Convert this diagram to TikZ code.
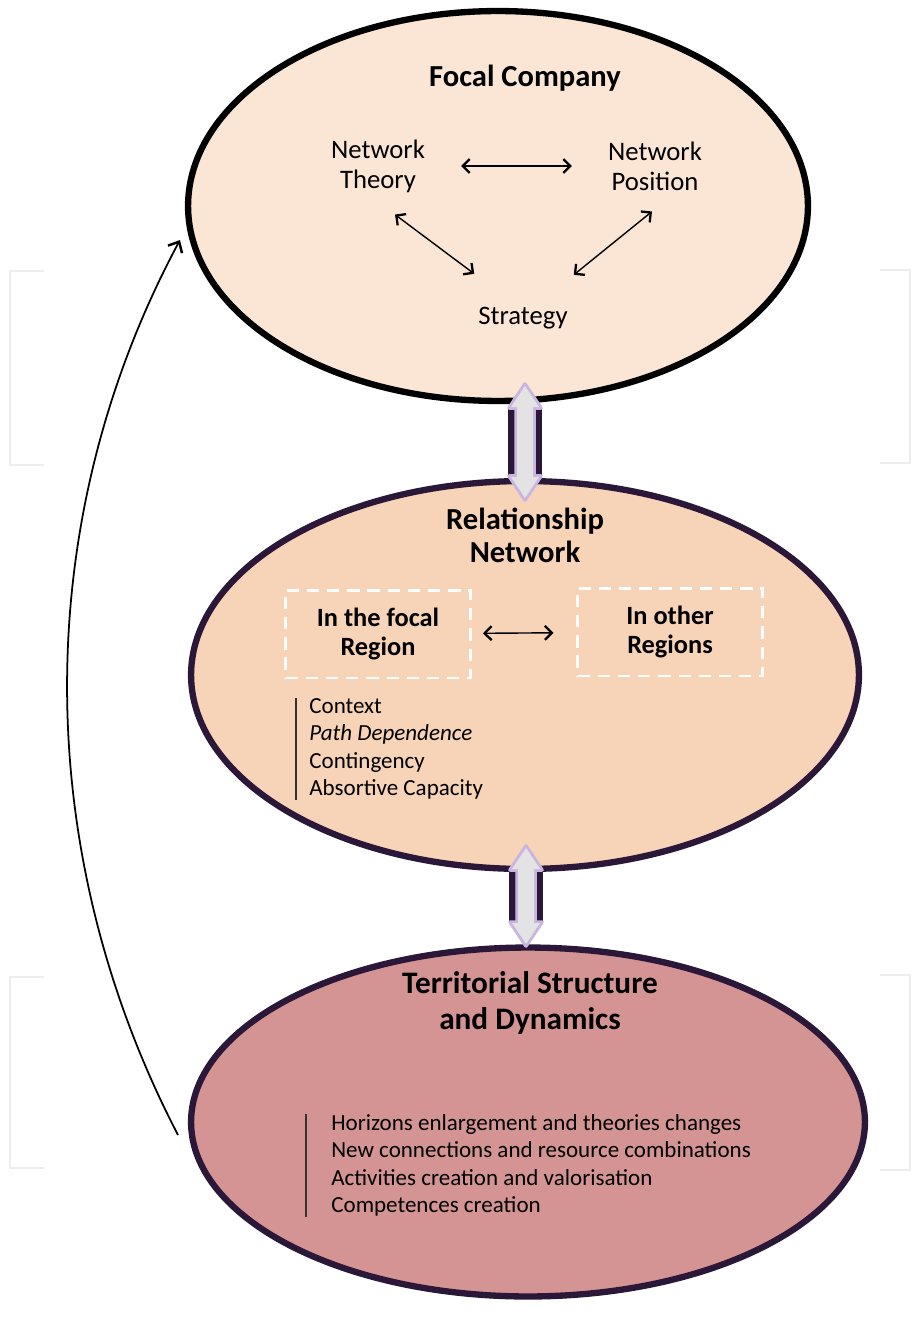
\documentclass[tikz,border=0pt]{standalone}
\usepackage{fontspec}
\setmainfont{Carlito}
\usetikzlibrary{shapes.geometric,arrows.meta,calc}
\definecolor{focalfill}{HTML}{FBE6D6}
\definecolor{netfill}{HTML}{F7D3B7}
\definecolor{terrfill}{HTML}{D59494}
\definecolor{rimpurple}{HTML}{2B1838}
\definecolor{glowpurple}{HTML}{C9B5E0}
\definecolor{bracketgrey}{HTML}{EDEDED}
\definecolor{listline}{HTML}{333333}
% fat grey two-headed link, #1 = centre, #2 = half length
\newcommand\fatlink[2]{%
	\fill[rimpurple] ($(#1)+(-17,-#2+24)$) rectangle ($(#1)+(17,#2-24)$);
	\draw[glowpurple, line width=2pt, fill=gray!30, line join=round] ($(#1)+(0,-#2)$) -- ++(16,24) -- ++(-7,0) -- ++(0,2*#2-48) -- ++(7,0) -- ++(-16,24) -- ++(-16,-24) -- ++(7,0) -- ++(0,-2*#2+48) -- ++(-7,0) -- cycle;
	\fill[gray!22] ($(#1)+(0,-#2+2)$) -- ++(14,21) -- ++(-6,0) -- ++(0,2*#2-46) -- ++(6,0) -- ++(-14,21) -- ++(-14,-21) -- ++(6,0) -- ++(0,-2*#2+46) -- ++(-6,0) -- cycle;}
\begin{document}
\begin{tikzpicture}[x=.02cm, y=-.02cm,
	oval/.style={ellipse, line width=3.6pt, inner sep=0pt},
	twoway/.style={<->, line width=.8pt, >={Straight Barb[length=4pt,width=8pt,line width=1.3pt]}},
	dashbox/.style={draw=white, line width=1.7pt, dash pattern=on 7pt off 4.5pt, minimum width=3.7cm, minimum height=1.76cm, align=center, font=\fontsize{15}{17}\selectfont\bfseries},
	plain/.style={align=center, font=\fontsize{15.2}{17}\selectfont},
	heading/.style={align=center, font=\fontsize{17.4}{18.7}\selectfont\bfseries},
	listing/.style={align=left, anchor=north west, inner sep=0pt, font=\fontsize{13.1}{15.6}\selectfont},
	bracket/.style={draw=bracketgrey, line width=1.2pt}]
	\useasboundingbox (0,0) rectangle (912,1341);
	% faint brackets
	\draw[bracket] (44,271) -| (10,465) -- (44,465);
	\draw[bracket] (880,270) -| (910,463) -- (880,463);
	\draw[bracket] (44,977) -| (10,1168) -- (44,1168);
	\draw[bracket] (880,975) -| (910,1170) -- (880,1170);
	% the three levels
	\node[oval, draw=black, fill=focalfill, minimum width=12.4cm, minimum height=7.8cm] (focal) at (498,206) {};
	\node[oval, draw=rimpurple, fill=netfill, minimum width=13.36cm, minimum height=7.76cm] (relnet) at (525,675) {};
	\node[oval, draw=rimpurple, fill=terrfill, minimum width=13.48cm, minimum height=6.98cm] (terr) at (528,1122) {};
	\coordinate (upperlink) at (525,442);
	\coordinate (lowerlink) at (526,896);
	\fatlink{upperlink}{58}
	\fatlink{lowerlink}{50}
	% focal company
	\node[heading] (fctitle) at (525,78) {Focal Company};
	\node[plain] (ntheory) at (378,166) {Network\\Theory};
	\node[plain] (nposition) at (655,166) {Network\\Position};
	\node[plain] (strategy) at (523,318) {Strategy};
	\draw[twoway, shorten <=.6cm, shorten >=.6cm] (ntheory) -- (nposition);
	\draw[twoway] ($(ntheory.south)+(17,16)$) -- ($(strategy.north west)+(2,-27)$);
	\draw[twoway] ($(nposition.south)+(-3,15)$) -- ($(strategy.north east)+(0,-26)$);
	% relationship network
	\node[heading] (rntitle) at (525,535) {Relationship\\Network};
	\node[dashbox] (focalreg) at (378,634) {In the focal\\Region};
	\node[dashbox] (otherreg) at (670,632) {In other\\Regions};
	\draw[twoway, shorten <=.22cm, shorten >=.45cm] (focalreg) -- (otherreg);
	\node[listing] (factors) at (309,698) {Context\\\textit{Path Dependence}\\Contingency\\Absortive Capacity};
	\draw[listline, line width=.8pt] ([xshift=-.26cm]factors.north west) -- ([xshift=-.26cm]factors.south west);
	% territorial structure
	\node[heading, font=\fontsize{17.8}{21}\selectfont\bfseries] (trtitle) at (530,1003) {Territorial Structure\\and Dynamics};
	\node[listing] (effects) at (331,1114) {Horizons enlargement and theories changes\\New connections and resource combinations\\Activities creation and valorisation\\Competences creation};
	\draw[listline, line width=.8pt] ([xshift=-.5cm]effects.north west) -- ([xshift=-.5cm]effects.south west);
	% feedback
	\coordinate (loopstart) at (178,1135);
	\coordinate (loopend) at (180,240);
	\draw[line width=1pt, -{Straight Barb[length=5pt,width=9pt,line width=1.4pt]}] (loopstart) .. controls (30,850) and (30,520) .. (loopend);
\end{tikzpicture}
\end{document}
